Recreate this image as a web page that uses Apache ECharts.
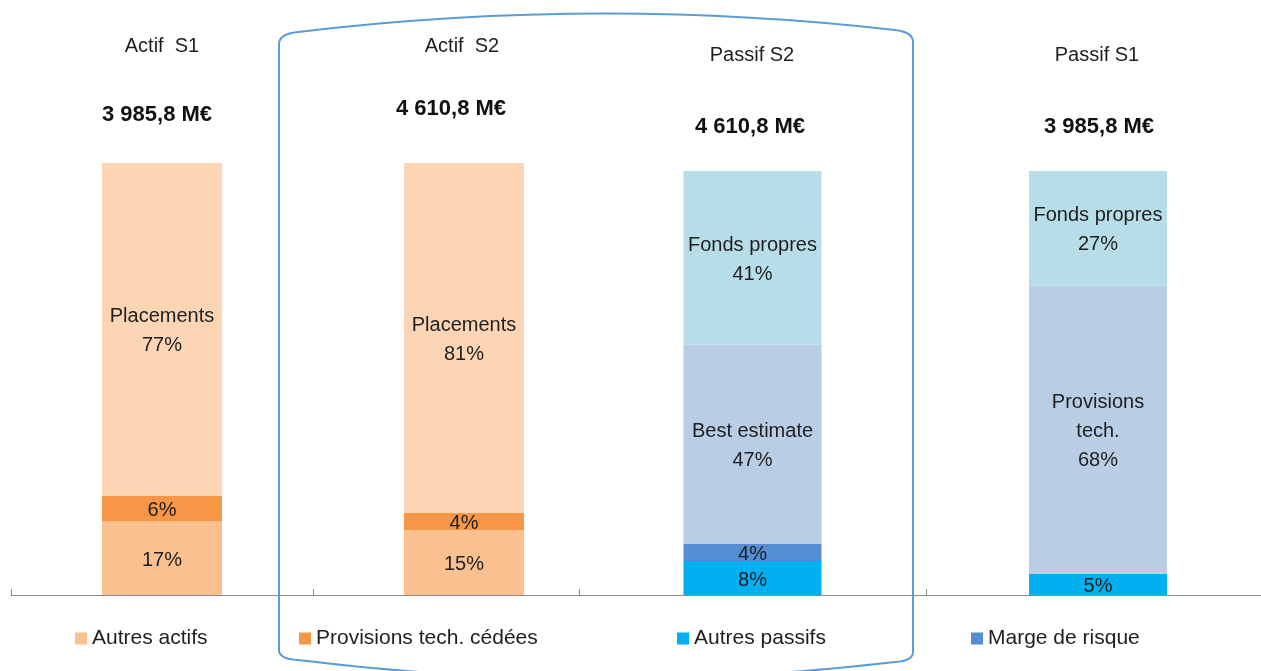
<!DOCTYPE html>
<html lang="fr">
<head>
  <meta charset="UTF-8">
  <title>Bilan S1 / S2</title>
  <script src="https://cdn.jsdelivr.net/npm/echarts@6/dist/echarts.min.js"></script>
</head>
<style>
  * {
    padding: 0px;
    margin: 0px;
  }
</style>
<body>
<div id="main" style="width:1261px;height:671px;"></div>
</body>
</html>
<script>
  // colonnes du bilan
  var columns = ['Actif  S1', 'Actif  S2', 'Passif S2', 'Passif S1'];
  var totals = ['3 985,8 M€', '4 610,8 M€', '4 610,8 M€', '3 985,8 M€'];

  // postes empilés (du bas vers le haut) et leur poids en %
  var postesActifS1 = ['Autres actifs', 'Provisions tech. cédées', 'Placements'];
  var valeursActifS1 = [17, 6, 77];
  var postesActifS2 = ['Autres actifs', 'Provisions tech. cédées', 'Placements'];
  var valeursActifS2 = [15, 4, 81];
  var postesPassifS2 = ['Autres passifs', 'Marge de risque', 'Best estimate', 'Fonds propres'];
  var valeursPassifS2 = [8, 4, 47, 41];
  var postesPassifS1 = ['Autres passifs', 'Provisions tech.', 'Fonds propres'];
  var valeursPassifS1 = [5, 68, 27];

  // texte affiché dans le segment (vide = seulement le %)
  var etiquettesActifS1 = ['', '', 'Placements'];
  var etiquettesActifS2 = ['', '', 'Placements'];
  var etiquettesPassifS2 = ['', '', 'Best estimate', 'Fonds propres'];
  var etiquettesPassifS1 = ['', 'Provisions\ntech.', 'Fonds propres'];

  var legendNames = ['Autres actifs', 'Provisions tech. cédées', 'Autres passifs', 'Marge de risque'];

  window.onload = function () {
    var font = 'Liberation Sans';
    var colors = {
      'Autres actifs': '#FAC090',
      'Provisions tech. cédées': '#F79646',
      'Placements': '#FCD5B5',
      'Autres passifs': '#00B0F0',
      'Marge de risque': '#558ED5',
      'Best estimate': '#B9CDE5',
      'Provisions tech.': '#B9CDE5',
      'Fonds propres': '#B7DEE8'
    };

    var stacks = [
      {postes: postesActifS1, valeurs: valeursActifS1, etiquettes: etiquettesActifS1},
      {postes: postesActifS2, valeurs: valeursActifS2, etiquettes: etiquettesActifS2},
      {postes: postesPassifS2, valeurs: valeursPassifS2, etiquettes: etiquettesPassifS2},
      {postes: postesPassifS1, valeurs: valeursPassifS1, etiquettes: etiquettesPassifS1}
    ];

    // un grid par colonne (espacements irréguliers comme dans l'original)
    // + un grid vide qui porte la ligne d'axe continue
    var grids = [
      {left: 11, width: 302, top: 163, bottom: 76},
      {left: 313, width: 302, top: 163, bottom: 76},
      {left: 579, width: 347, top: 171, bottom: 76},
      {left: 935, width: 326, top: 171, bottom: 76},
      {left: 11, right: 0, top: 163, bottom: 76}
    ];
    var barWidths = [120, 120, 138, 138];
    var showTicks = [true, false, true, false];

    var xAxis = [], yAxis = [], series = [];
    columns.forEach(function (col, i) {
      xAxis.push({
        type: 'category',
        gridIndex: i,
        data: [col],
        axisLine: {show: false},
        axisTick: {show: showTicks[i], inside: true, length: 6, lineStyle: {color: '#8c8c8c'}},
        axisLabel: {show: false}
      });
      yAxis.push({
        type: 'value',
        gridIndex: i,
        min: 0,
        max: 100,
        show: false,
        splitLine: {show: false}
      });
      var s = stacks[i];
      s.postes.forEach(function (poste, j) {
        var txt = s.etiquettes[j];
        series.push({
          name: poste,
          type: 'bar',
          xAxisIndex: i,
          yAxisIndex: i,
          stack: 'col' + i,
          barWidth: barWidths[i],
          data: [s.valeurs[j]],
          itemStyle: {color: colors[poste]},
          emphasis: {disabled: true},
          label: {
            show: true,
            position: 'inside',
            offset: [0, 2],
            fontFamily: font,
            fontSize: 20,
            lineHeight: 29,
            color: '#1e1e1e',
            formatter: (txt ? txt + '\n' : '') + s.valeurs[j] + '%'
          }
        });
      });
    });
    // axe horizontal continu
    xAxis.push({
      type: 'category',
      gridIndex: 4,
      data: [''],
      axisLine: {lineStyle: {color: '#8c8c8c', width: 1}},
      axisTick: {show: false},
      axisLabel: {show: false}
    });
    yAxis.push({type: 'value', gridIndex: 4, show: false, splitLine: {show: false}});

    // titres et totaux au-dessus des colonnes
    var namePos = [[162, 46], [462, 46], [752, 55], [1097, 55]];
    var totalPos = [[157, 115], [451, 109], [750, 127], [1099, 127]];
    var graphic = [];
    columns.forEach(function (col, i) {
      graphic.push({
        type: 'text', x: namePos[i][0], y: namePos[i][1],
        style: {text: col, fontFamily: font, fontSize: 20, fill: '#1e1e1e', align: 'center', verticalAlign: 'middle'}
      });
      graphic.push({
        type: 'text', x: totalPos[i][0], y: totalPos[i][1],
        style: {text: totals[i], fontFamily: font, fontSize: 22, fontWeight: 'bold', fill: '#111', align: 'center', verticalAlign: 'middle'}
      });
    });

    // cadre bleu arrondi autour du bilan S2
    var cadre = {stroke: '#5B9BD5', lineWidth: 2, fill: 'none'};
    function trait(shape) {
      graphic.push({type: 'line', z: 100, shape: shape, style: cadre});
    }
    function courbe(shape) {
      graphic.push({type: 'bezierCurve', z: 100, shape: shape, style: cadre});
    }
    trait({x1: 279, y1: 44, x2: 279, y2: 650});
    trait({x1: 913, y1: 42, x2: 913, y2: 652});
    courbe({x1: 279, y1: 44, cpx1: 279, cpy1: 34, x2: 298, y2: 32});
    courbe({x1: 298, y1: 32, cpx1: 597, cpy1: -4, x2: 895, y2: 30});
    courbe({x1: 895, y1: 30, cpx1: 913, cpy1: 32, x2: 913, y2: 42});
    courbe({x1: 913, y1: 652, cpx1: 913, cpy1: 661, x2: 895, y2: 662});
    courbe({x1: 895, y1: 662, cpx1: 597, cpy1: 697, x2: 298, y2: 660});
    courbe({x1: 298, y1: 660, cpx1: 279, cpy1: 659, x2: 279, y2: 650});

    // une légende par item, positions irrégulières
    var legendLeft = [75, 299, 677, 971];
    var legend = legendNames.map(function (n, i) {
      return {
        data: [{name: n, icon: 'rect'}],
        left: legendLeft[i],
        top: 628,
        padding: 0,
        itemWidth: 12,
        itemHeight: 12,
        itemGap: 6,
        selectedMode: false,
        textStyle: {fontFamily: font, fontSize: 21, color: '#1e1e1e'}
      };
    });

    var myChart = echarts.init(document.getElementById('main'));
    myChart.setOption({
      backgroundColor: '#fff',
      animation: false,
      grid: grids,
      xAxis: xAxis,
      yAxis: yAxis,
      legend: legend,
      graphic: graphic,
      series: series
    });
  }
</script>
